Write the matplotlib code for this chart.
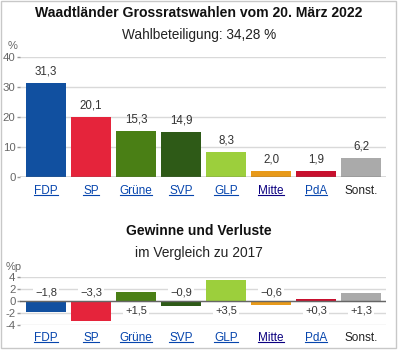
import matplotlib
matplotlib.use('Agg')
import matplotlib.pyplot as plt
from matplotlib.lines import Line2D
from matplotlib.patches import Rectangle

plt.rcParams['font.family'] = ['Liberation Sans', 'DejaVu Sans']

# data
parties = ['FDP', 'SP', 'Grüne', 'SVP', 'GLP', 'Mitte', 'PdA', 'Sonst.']
shares = [31.3, 20.1, 15.3, 14.9, 8.3, 2.0, 1.9, 6.2]
changes = [-1.8, -3.3, 1.5, -0.9, 3.5, -0.6, 0.3, 1.3]
colors = ['#1150a0', '#e5243b', '#4a7f15', '#2e5a17', '#9ccf3c', '#e89a1a', '#c8102e', '#aaaaaa']
link_colors = ['#0645ad', '#0645ad', '#0645ad', '#0645ad', '#0645ad', '#0b0080', '#0645ad', '#222222']
top_ticks = [0, 10, 20, 30, 40]
bottom_ticks = [-4, -2, 0, 2, 4]

W, H = 398, 352
fig = plt.figure(figsize=(W / 100, H / 100), dpi=100)


def px(x, y):
    return x / W, 1 - y / H


def fmt(v, sign=False):
    s = f'{abs(v):.1f}'.replace('.', ',')
    if sign:
        return ('\u2212' if v < 0 else '+') + s
    return s


# frame around the whole chart
fig.add_artist(Rectangle(px(1, 348), 395 / W, 347.5 / H, transform=fig.transFigure,
                         fill=False, ec='#c8c8c8', lw=1))

fig.text(*px(199, 13), 'Waadtländer Grossratswahlen vom 20. März 2022', ha='center', va='center',
         fontsize=10.1, fontweight='bold', color='#111111')
fig.text(*px(199, 35), 'Wahlbeteiligung: 34,28 %', ha='center', va='center', fontsize=9.8, color='#222222')
fig.text(*px(13, 46), '%', ha='center', va='center', fontsize=8, color='#666666')
fig.text(*px(199, 231), 'Gewinne und Verluste', ha='center', va='center',
         fontsize=10, fontweight='bold', color='#111111')
fig.text(*px(199, 253), 'im Vergleich zu 2017', ha='center', va='center', fontsize=9.9, color='#222222')
fig.text(*px(14, 267), '%p', ha='center', va='center', fontsize=8, color='#666666')

x = list(range(len(parties)))
xl = (-26 / 45, 7 + 25 / 45)

ax1 = fig.add_axes([20 / W, (H - 177) / H, 366 / W, 120 / H])
ax2 = fig.add_axes([20 / W, (H - 325) / H, 366 / W, 48 / H])

for ax, ticks in [(ax1, top_ticks), (ax2, bottom_ticks)]:
    ax.set_xlim(*xl)
    ax.set_ylim(ticks[0], ticks[-1])
    ax.set_yticks(ticks)
    ax.set_yticklabels([str(t) for t in ticks])
    for s in ax.spines.values():
        s.set_visible(False)
    ax.set_axisbelow(True)
    ax.grid(axis='y', color='#d9d9d9', lw=1)
    ax.tick_params(axis='y', length=2.5, width=1, color='#999999', pad=0.8, labelsize=8.2, labelcolor='#666666')
    ax.tick_params(axis='x', length=0, labelsize=8.5)
    ax.set_xticks(x)
    ax.set_xticklabels(parties)
    for lbl, c in zip(ax.get_xticklabels(), link_colors):
        lbl.set_color(c)
    ax.axhline(0, color='#666666', lw=1, zorder=3)

ax1.tick_params(axis='x', pad=6)
ax2.tick_params(axis='x', pad=5)

ax1.bar(x, shares, width=40 / 45, color=colors, zorder=2)
for xi, v in zip(x, shares):
    ax1.annotate(fmt(v), (xi, v), xytext=(0, 4), textcoords='offset points', ha='center', va='bottom',
                 fontsize=8.3, color='#333333')

ax2.bar(x, changes, width=40 / 45, color=colors, zorder=2)
for xi, v in zip(x, changes):
    off = 6 if v < 0 else -6.5
    ax2.annotate(fmt(v, sign=True), (xi, 0), xytext=(0, off), textcoords='offset points', ha='center',
                 va='center', fontsize=8, color='#333333', zorder=4,
                 bbox=dict(boxstyle='square,pad=0.15', fc='white', ec='none'))

# underline the party links
fig.canvas.draw()
for ax in (ax1, ax2):
    for lbl, name in zip(ax.get_xticklabels(), parties):
        if name == 'Sonst.':
            continue
        bb = lbl.get_window_extent()
        yb = bb.y0 + 0.17 * bb.height
        fig.add_artist(Line2D([bb.x0 / W, bb.x1 / W], [yb / H, yb / H], transform=fig.transFigure,
                              color=lbl.get_color(), lw=0.8))

fig.savefig('out.png', dpi=100)
